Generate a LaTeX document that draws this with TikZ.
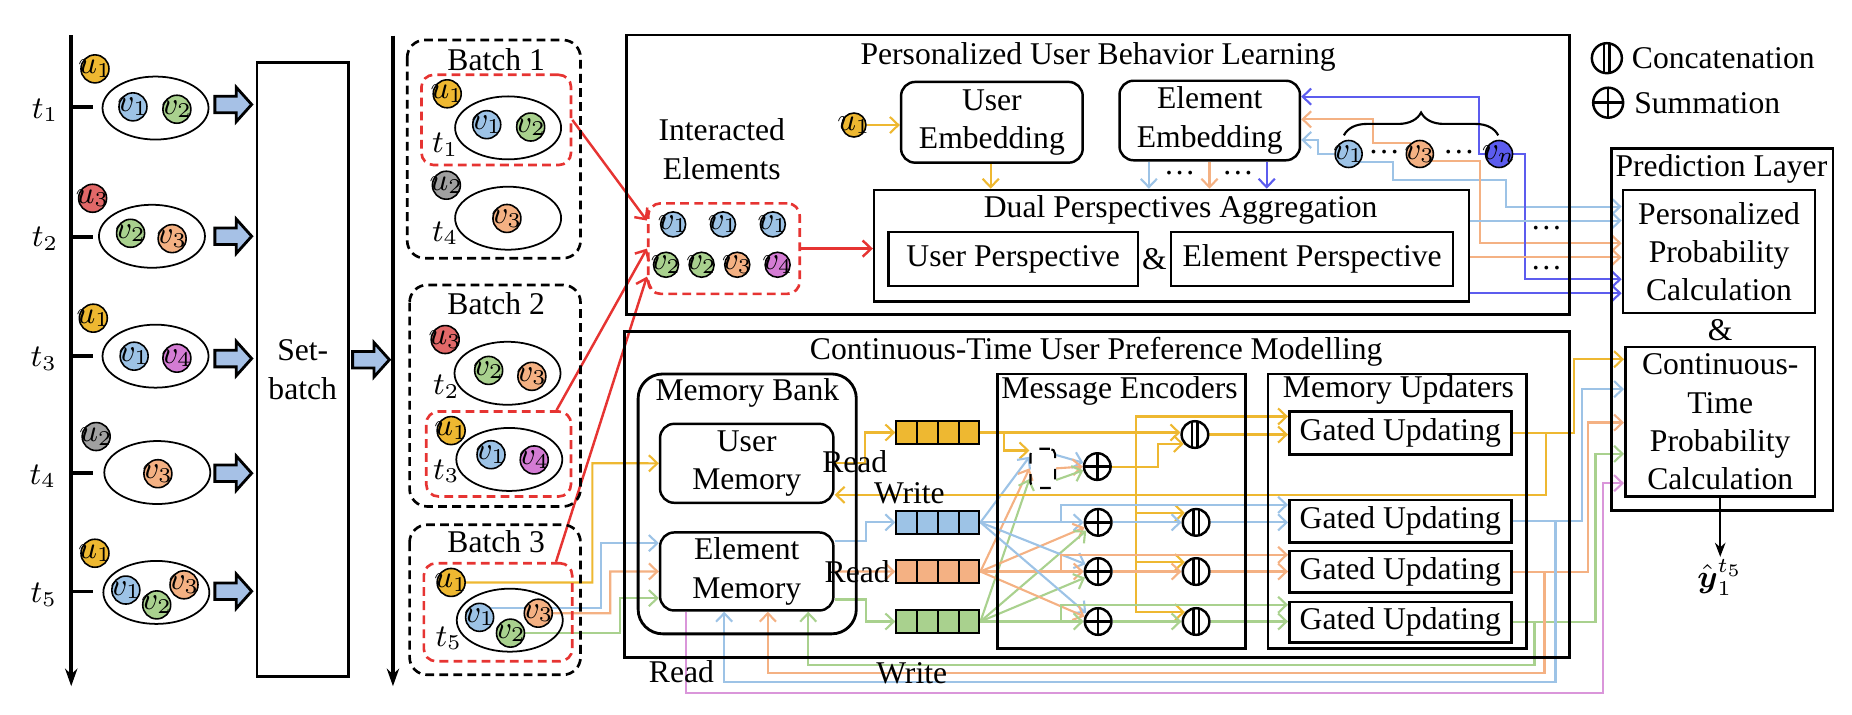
\documentclass[tikz,border=0pt]{standalone}
\usepackage{amsmath}
\usepackage{fontspec}
\setmainfont{Liberation Serif}
\usetikzlibrary{shapes.geometric,arrows.meta,decorations.pathreplacing,calc,fit}
\definecolor{cy}{RGB}{238,184,49}
\definecolor{cb}{RGB}{157,195,230}
\definecolor{co}{RGB}{244,177,131}
\definecolor{cg}{RGB}{169,209,142}
\definecolor{cv}{RGB}{212,124,212}
\definecolor{cpk}{RGB}{218,150,218}
\definecolor{cr}{RGB}{226,104,104}
\definecolor{cgy}{RGB}{160,160,160}
\definecolor{cn}{RGB}{92,92,238}
\definecolor{cred}{RGB}{230,52,50}
\definecolor{cfa}{RGB}{166,193,230}
\newcommand{\ctx}[1]{\makebox[0pt]{$#1$}}
\pgfdeclarelayer{bg}
\pgfsetlayers{bg,main}
\begin{document}
\begin{tikzpicture}[x=0.011872cm,y=-0.011872cm,
  font=\fontsize{9}{10.9}\selectfont,
  >={Straight Barb[length=2.4pt,width=4.6pt]},
  lin/.style={line width=0.6pt},
  yl/.style={lin,draw=cy}, bl/.style={lin,draw=cb}, ol/.style={lin,draw=co},
  gl/.style={lin,draw=cg}, nl/.style={lin,draw=cn}, pl/.style={lin,draw=cpk},
  rl/.style={line width=0.7pt,draw=cred},
  frame/.style={draw,line width=0.8pt},
  box/.style={draw,line width=0.7pt,inner sep=0pt},
  rbox/.style={box,rounded corners=4pt},
  txt/.style={label={[align=center]center:{#1}}},
  cir/.style={circle,draw,line width=0.45pt,inner sep=0pt,minimum size=0.28cm},
  ell/.style={ellipse,draw,line width=0.5pt,inner sep=0pt,minimum width=1.06cm,minimum height=0.63cm},
  bat/.style={draw,line width=0.75pt,dash pattern=on 2.5pt off 1.5pt,rounded corners=5pt},
  rbat/.style={draw=cred,line width=0.75pt,dash pattern=on 2.5pt off 1.5pt,rounded corners=3.5pt,inner sep=0pt},
  sumc/.style={circle,draw,line width=0.7pt,inner sep=0pt,minimum size=0.266cm,
    path picture={\draw[line width=0.7pt] (path picture bounding box.north) -- (path picture bounding box.south) (path picture bounding box.west) -- (path picture bounding box.east);}},
  catc/.style={circle,draw,line width=0.7pt,inner sep=0pt,minimum size=0.266cm,
    path picture={\draw[line width=0.6pt] ([xshift=-0.75pt]path picture bounding box.north) -- ([xshift=-0.75pt]path picture bounding box.south) ([xshift=0.75pt]path picture bounding box.north) -- ([xshift=0.75pt]path picture bounding box.south);}},
  vec/.style={draw,line width=0.6pt,inner sep=0pt,minimum width=0.83cm,minimum height=0.23cm,
    path picture={\foreach \k in {0.25,0.5,0.75} \draw[line width=0.6pt] ($(path picture bounding box.north west)!\k!(path picture bounding box.north east)$) -- ($(path picture bounding box.south west)!\k!(path picture bounding box.south east)$);}},
  barrow/.style={draw,line width=0.8pt,fill=cfa}]
\useasboundingbox (0,0) rectangle (1560,602);

\draw[line width=1.1pt,-{Stealth[length=5pt,width=3.5pt]}] (60,29.5) -- (60,578);
\draw[line width=1.1pt,-{Stealth[length=5pt,width=3.5pt]}] (331,30) -- (331,578);
\draw[line width=1.1pt] (60,90) -- (78,90);
\draw[line width=1.1pt] (60,199.3) -- (78,199.3);
\draw[line width=1.1pt] (60,299.8) -- (78,299.8);
\draw[line width=1.1pt] (60,398.6) -- (78,398.6);
\draw[line width=1.1pt] (60,498.2) -- (78,498.2);
\node (lt1) at (38,93) {$t_1$};
\node (lt2) at (38,201) {$t_2$};
\node (lt3) at (37,302) {$t_3$};
\node (lt4) at (36,401) {$t_4$};
\node (lt5) at (37,501) {$t_5$};

\node[ell] (a1e) at (131,91) {};
\node[cir,fill=cy] (a1u) at (80,58) {\ctx{u_1}};
\node[cir,fill=cb] (a1v1) at (112,90) {\ctx{v_1}};
\node[cir,fill=cg] (a1v2) at (149,92) {\ctx{v_2}};
\node[ell] (a2e) at (128,199) {};
\node[cir,fill=cr] (a2u) at (78,167) {\ctx{u_3}};
\node[cir,fill=cg] (a2v2) at (110,196.5) {\ctx{v_2}};
\node[cir,fill=co] (a2v3) at (145,201) {\ctx{v_3}};
\node[ell] (a3e) at (131,300) {};
\node[cir,fill=cy] (a3u) at (78.6,268) {\ctx{u_1}};
\node[cir,fill=cb] (a3v1) at (113,300) {\ctx{v_1}};
\node[cir,fill=cv] (a3v4) at (149,301.7) {\ctx{v_4}};
\node[ell] (a4e) at (132.5,398) {};
\node[cir,fill=cgy] (a4u) at (81,367.7) {\ctx{u_2}};
\node[cir,fill=co] (a4v3) at (133,399) {\ctx{v_3}};
\node[ell] (a5e) at (131.7,499) {};
\node[cir,fill=cy] (a5u) at (80,466) {\ctx{u_1}};
\node[cir,fill=cb] (a5v1) at (106,497) {\ctx{v_1}};
\node[cir,fill=cg] (a5v2) at (132,509.5) {\ctx{v_2}};
\node[cir,fill=co] (a5v3) at (155,492.6) {\ctx{v_3}};

\draw[barrow] (181,88) ++(0,-7) -- ++(18,0) -- ++(0,-7.5) -- ++(13,14.5) -- ++(-13,14.5) -- ++(0,-7.5) -- ++(-18,0) -- cycle;
\draw[barrow] (181,199) ++(0,-7) -- ++(18,0) -- ++(0,-7.5) -- ++(13,14.5) -- ++(-13,14.5) -- ++(0,-7.5) -- ++(-18,0) -- cycle;
\draw[barrow] (181,302) ++(0,-7) -- ++(18,0) -- ++(0,-7.5) -- ++(13,14.5) -- ++(-13,14.5) -- ++(0,-7.5) -- ++(-18,0) -- cycle;
\draw[barrow] (181,398.6) ++(0,-7) -- ++(18,0) -- ++(0,-7.5) -- ++(13,14.5) -- ++(-13,14.5) -- ++(0,-7.5) -- ++(-18,0) -- cycle;
\draw[barrow] (181,498) ++(0,-7) -- ++(18,0) -- ++(0,-7.5) -- ++(13,14.5) -- ++(-13,14.5) -- ++(0,-7.5) -- ++(-18,0) -- cycle;
\node[box,line width=0.8pt,fit={(216.5,52.8) (293.5,570)},txt={Set-\\batch}] (sb) {};
\draw[barrow] (297,303) ++(0,-7) -- ++(18,0) -- ++(0,-7.5) -- ++(13,14.5) -- ++(-13,14.5) -- ++(0,-7.5) -- ++(-18,0) -- cycle;

\draw[bat] (343,33.7) rectangle (489,217.5);
\node (bt1) at (418,50.5) {Batch 1};
\node[rbat,fit={(355,63) (481,139)}] (rb1) {};
\node[ell] (b1e) at (428,107.7) {};
\node[cir,fill=cy] (b1u) at (376.7,79) {\ctx{u_1}};
\node[cir,fill=cb] (b1v1) at (410,105) {\ctx{v_1}};
\node[cir,fill=cg] (b1v2) at (447,107) {\ctx{v_2}};
\node (b1t) at (375,122) {$t_1$};
\node[ell] (b2e) at (428,183.8) {};
\node[cir,fill=cgy] (b2u) at (376,156) {\ctx{u_2}};
\node[cir,fill=co] (b2v3) at (427,184) {\ctx{v_3}};
\node (b2t) at (375,196.5) {$t_4$};

\draw[bat] (345,240) rectangle (489,426.6);
\node (bt2) at (418,255.5) {Batch 2};
\node[ell] (b3e) at (427.5,314.4) {};
\node[cir,fill=cr] (b3u) at (375,286) {\ctx{u_3}};
\node[cir,fill=cg] (b3v2) at (411.6,312) {\ctx{v_2}};
\node[cir,fill=co] (b3v3) at (448,317) {\ctx{v_3}};
\node (b3t) at (376,325.6) {$t_2$};
\node[rbat,fit={(359,346.6) (481,418.2)}] (rb2) {};
\node[ell] (b4e) at (429,387) {};
\node[cir,fill=cy] (b4u) at (380,362.7) {\ctx{u_1}};
\node[cir,fill=cb] (b4v1) at (413.6,383) {\ctx{v_1}};
\node[cir,fill=cv] (b4v4) at (450,387.4) {\ctx{v_4}};
\node (b4t) at (376,397) {$t_3$};

\draw[bat] (345,442) rectangle (489,568.4);
\node (bt3) at (418,456) {Batch 3};
\node[rbat,fit={(357,474.4) (482,557)}] (rb3) {};
\node[ell] (b5e) at (429.4,522.4) {};
\node[cir,fill=cy] (b5u) at (380,490.6) {\ctx{u_1}};
\node[cir,fill=cb] (b5v1) at (404,520) {\ctx{v_1}};
\node[cir,fill=cg] (b5v2) at (430,533.3) {\ctx{v_2}};
\node[cir,fill=co] (b5v3) at (453.4,516.5) {\ctx{v_3}};
\node (b5t) at (378,537.5) {$t_5$};

\draw[frame] (527.7,29.5) rectangle (1321.8,265.2);
\node (pt) at (925,47.8) {Personalized User Behavior Learning};
\node[align=center] (iel) at (608,125.6) {Interacted\\Elements};
\node[rbat,fit={(546,171.3) (673.6,247.5)}] (ie) {};
\node[cir,minimum size=0.25cm,fill=cb] (ie1) at (567,189) {\ctx{v_1}};
\node[cir,minimum size=0.25cm,fill=cb] (ie2) at (609,189) {\ctx{v_1}};
\node[cir,minimum size=0.25cm,fill=cb] (ie3) at (651,189) {\ctx{v_1}};
\node[cir,minimum size=0.25cm,fill=cg] (ie4) at (561,223) {\ctx{v_2}};
\node[cir,minimum size=0.25cm,fill=cg] (ie5) at (591,223) {\ctx{v_2}};
\node[cir,minimum size=0.25cm,fill=co] (ie6) at (621,223) {\ctx{v_3}};
\node[cir,minimum size=0.25cm,fill=cv] (ie7) at (655,223) {\ctx{v_4}};
\node[cir,minimum size=0.24cm,fill=cy] (pu) at (719.3,105.3) {\ctx{u_1}};
\node[rbox,fit={(759,69) (912,137)},txt={User\\Embedding}] (ue) {};
\node[rbox,fit={(943,68) (1095,135)},txt={Element\\Embedding}] (ee) {};
\node[box,fit={(736.3,160) (1237.4,254)}] (dpa) {};
\node (dpat) at (994.5,176.8) {Dual Perspectives Aggregation};
\node[box,fit={(748.4,195.5) (958.5,240.8)},txt={User Perspective}] (upb) {};
\node[box,fit={(986.5,195.5) (1224,240.8)},txt={Element Perspective}] (epb) {};
\node (amp1) at (972.5,218) {\&};
\node[cir,minimum size=0.27cm,fill=cb] (pv1) at (1136,129.7) {\ctx{v_1}};
\node[cir,minimum size=0.27cm,fill=co] (pv3) at (1196,129.7) {\ctx{v_3}};
\node[cir,minimum size=0.27cm,fill=cn] (pvn) at (1262.7,129.7) {\ctx{v_n}};
\node (pd1) at (1166,128) {\dots};
\node (pd2) at (1229,128) {\dots};
\node (pd3) at (993.6,146) {\dots};
\node (pd4) at (1042.7,146) {\dots};
\node (pd5) at (1302.5,192) {\dots};
\node (pd6) at (1302.5,226) {\dots};
\draw[line width=0.6pt,decorate,decoration={brace,amplitude=6.5pt}] (1132,114) -- (1262,114);

\node[catc,minimum size=0.3cm] (lc) at (1353.5,49) {};
\node[anchor=west,inner sep=0pt] (lct) at (1374,49) {Concatenation};
\node[sumc,minimum size=0.3cm] (ls) at (1354.6,86.5) {};
\node[anchor=west,inner sep=0pt] (lst) at (1376,86.5) {Summation};

\draw[frame] (1357.5,125) rectangle (1544,430);
\node (plt) at (1450,142.5) {Prediction Layer};
\node[box,fit={(1367,160) (1529,263.8)},txt={Personalized\\Probability\\Calculation}] (ppc) {};
\node (amp2) at (1449,278) {\&};
\node[box,fit={(1369,292.5) (1529,418.2)},txt={Continuous-\\Time\\Probability\\Calculation}] (ctpc) {};
\node[anchor=north,inner sep=0.5pt] (yhat) at (1449,469) {$\hat{\boldsymbol{y}}_1^{t_5}$};
\draw[line width=0.6pt,-{Stealth[length=4pt,width=3pt]}] (ctpc.south) -- (yhat.north);

\draw[frame] (526.2,279.3) rectangle (1321.8,553.5);
\node (ctt) at (923.4,296.1) {Continuous-Time User Preference Modelling};
\draw[frame,rounded corners=7pt] (537.5,315) rectangle (721.3,533.9);
\node (mbt) at (629.5,331) {Memory Bank};
\node[rbox,fit={(556,357) (702,423.5)},txt={User\\Memory}] (um) {};
\node[rbox,fit={(556,448.5) (702,514.2)},txt={Element\\Memory}] (em) {};
\draw[frame] (840,315) rectangle (1049,546);
\node (met) at (943,329) {Message Encoders};
\draw[frame] (1068,315) rectangle (1286,546);
\node (mut) at (1178,328.5) {Memory Updaters};
\node[vec,fill=cy] (yvec) at (790,364.3) {};
\node[vec,fill=cb] (bvec) at (790,440) {};
\node[vec,fill=co] (ovec) at (790,481.4) {};
\node[vec,fill=cg] (gvec) at (790,523.5) {};
\node[draw,dashed,line width=0.6pt,rounded corners=1.5pt,minimum width=0.246cm,minimum height=0.392cm,inner sep=0pt] (db) at (878.4,394.5) {};
\node[sumc] (s1) at (924.3,393) {};
\node[sumc] (s2) at (925,440) {};
\node[sumc] (s3) at (925,481.4) {};
\node[sumc] (s4) at (925,523.5) {};
\node[catc] (c1) at (1006.5,366) {};
\node[catc] (c2) at (1007.5,440) {};
\node[catc] (c3) at (1007.5,481.4) {};
\node[catc] (c4) at (1007.5,523.5) {};
\node[box,fit={(1086,346.6) (1273,383)},txt={Gated Updating}] (g1) {};
\node[box,fit={(1086,421) (1273,457)},txt={Gated Updating}] (g2) {};
\node[box,fit={(1086,464) (1273,499)},txt={Gated Updating}] (g3) {};
\node[box,fit={(1086,507) (1273,541)},txt={Gated Updating}] (g4) {};
\node (rd1) at (720,388.7) {Read};
\node (wr1) at (766,415.4) {Write};
\node (rd2) at (722,481.4) {Read};
\node (rd3) at (574,565.6) {Read};
\node (wr2) at (768,567) {Write};

\begin{pgfonlayer}{bg}
\draw[rl,->] (rb1.east) -- (ie.160);
\draw[rl,->] ([xshift=-4.5pt]rb2.north east) -- (ie.west);
\draw[rl,->] ([xshift=-5pt]rb3.north east) -- (ie.200);
\draw[rl,->] (ie.east) -- (dpa.west |- ie.east);
\draw[yl,->] (pu.east) -- (ue.west |- pu.east);
\draw[yl,->] (ue.south -| 834.5,0) -- (dpa.north -| 834.5,0);
\draw[bl,->] (ee.south -| 967.7,0) -- (dpa.north -| 967.7,0);
\draw[ol,->] (ee.south -| 1018.8,0) -- (dpa.north -| 1018.8,0);
\draw[nl,->] (ee.south -| 1067,0) -- (dpa.north -| 1067,0);
\draw[nl,->] (pvn.west) -| (1245.5,81.4) -- (ee.east |- 0,81.4);
\draw[ol,->] (pv3.130) -| (1156.4,100.5) -- (ee.east |- 0,100.5);
\draw[bl,->] (pv1.west) -| (1110,117.9) -- (ee.east |- 0,117.9);
\draw[bl,->] (pv1.-35) -| (1173,151.6) -| (1268.3,174) -- (ppc.west |- 0,174);
\draw[ol,->] (pv3.-30) -| (1246.9,204.9) -- (ppc.west |- 0,204.9);
\draw[nl,->] (pvn.east) -| (1284.2,235.2) -- (ppc.west |- 0,235.2);
\draw[bl,->] (dpa.east |- 0,185.8) -- (ppc.west |- 0,185.8);
\draw[ol,->] (dpa.east |- 0,216.7) -- (ppc.west |- 0,216.7);
\draw[nl,->] (dpa.east |- 0,247) -- (ppc.west |- 0,247);

\draw[yl,->] (b5u.east) -| (499,390.2) -- (um.west);
\draw[bl,->] (b5v1.40) -| (506,457.5) -- (em.west |- 0,457.5);
\draw[ol,->] (b5v3.east) -| (514,481.35) -- (em.west);
\draw[gl,->] (b5v2.east) -| (522,503.8) -- (em.west |- 0,503.8);
\draw[yl,->] (um.east) -| (728.3,364.3) -- (yvec.west);
\draw[bl,->] (em.east |- 0,456) -| (729.4,440) -- (bvec.west);
\draw[ol,->] (em.east) -- (ovec.west);
\draw[gl,->] (em.east |- 0,505) -| (729.4,523.5) -- (gvec.west);

\draw[yl,->] (yvec.east) -- (yvec.east -| c1.west);
\draw[yl,->] (845.6,364.3) |- ([yshift=-0.8pt]db.north west);
\draw[yl,->] (957,364.3) |- (g1.west |- 0,350.8);
\draw[yl,->] (957,364.3) |- (c2.140);
\draw[yl,->] (957,364.3) |- (c3.140);
\draw[yl,->] (957,364.3) |- (c4.140);
\draw[yl,->] (s1.east) -- (975.3,393) |- (c1.220);
\draw[yl,->] (c1.east) -- (c1.east -| g1.west);
\draw[bl,->] (bvec.east) -- ([yshift=3.3pt]db.west);
\draw[ol,->] (ovec.east) -- (db.west);
\draw[gl,->] (gvec.east) -- ([yshift=-3pt]db.west);
\draw[bl,->] ([yshift=3.8pt]db.east) -- (s1.165);
\draw[ol,->] (db.east) -- (s1.west);
\draw[gl,->] ([yshift=-3.3pt]db.east) -- (s1.195);
\draw[bl,->] (bvec.east) -- (s2.west);
\draw[ol,->] (ovec.east) -- (s2.200);
\draw[gl,->] (gvec.east) -- (s2.215);
\draw[bl,->] (bvec.east) -- (s3.150);
\draw[ol,->] (ovec.east) -- (s3.west);
\draw[gl,->] (gvec.east) -- (s3.205);
\draw[bl,->] (bvec.east) -- (s4.145);
\draw[ol,->] (ovec.east) -- (s4.160);
\draw[gl,->] (gvec.east) -- (s4.west);
\draw[bl,->] (893.5,440) |- (g2.west |- 0,425.2);
\draw[ol,->] (893.5,481.4) |- (g3.west |- 0,467.3);
\draw[gl,->] (893.5,523.5) |- (g4.west |- 0,509.4);
\draw[bl,->] (s2.east) -- (c2.west);
\draw[ol,->] (s3.east) -- (c3.west);
\draw[gl,->] (s4.east) -- (c4.west);
\draw[bl,->] (c2.east) -- (c2.east -| g2.west);
\draw[ol,->] (c3.east) -- (c3.east -| g3.west);
\draw[gl,->] (c4.east) -- (c4.east -| g4.west);

\draw[yl,->] (g1.east) -| (1326,302.6) -- (ctpc.west |- 0,302.6);
\draw[bl,->] (g2.east) -| (1332.6,327.8) -- (ctpc.west |- 0,327.8);
\draw[ol,->] (g3.east) -| (1337.4,355.9) -- (ctpc.west |- 0,355.9);
\draw[gl,->] (g4.east) -| (1343.9,382.3) -- (ctpc.west |- 0,382.3);
\draw[yl,->] (1302,364.8) |- (um.east |- 0,416.8);
\draw[bl,->] (1310.2,439) |- (610,574.8) -- (em.south -| 610,0);
\draw[ol,->] (1301,481.5) |- (646.8,567) -- (em.south -| 646.8,0);
\draw[gl,->] (1292.5,524) |- (680.8,560) -- (em.south -| 680.8,0);
\draw[pl,->] (em.south -| 577.8,0) |- (1350,583.8) |- (ctpc.west |- 0,407);
\end{pgfonlayer}
\end{tikzpicture}
\end{document}
